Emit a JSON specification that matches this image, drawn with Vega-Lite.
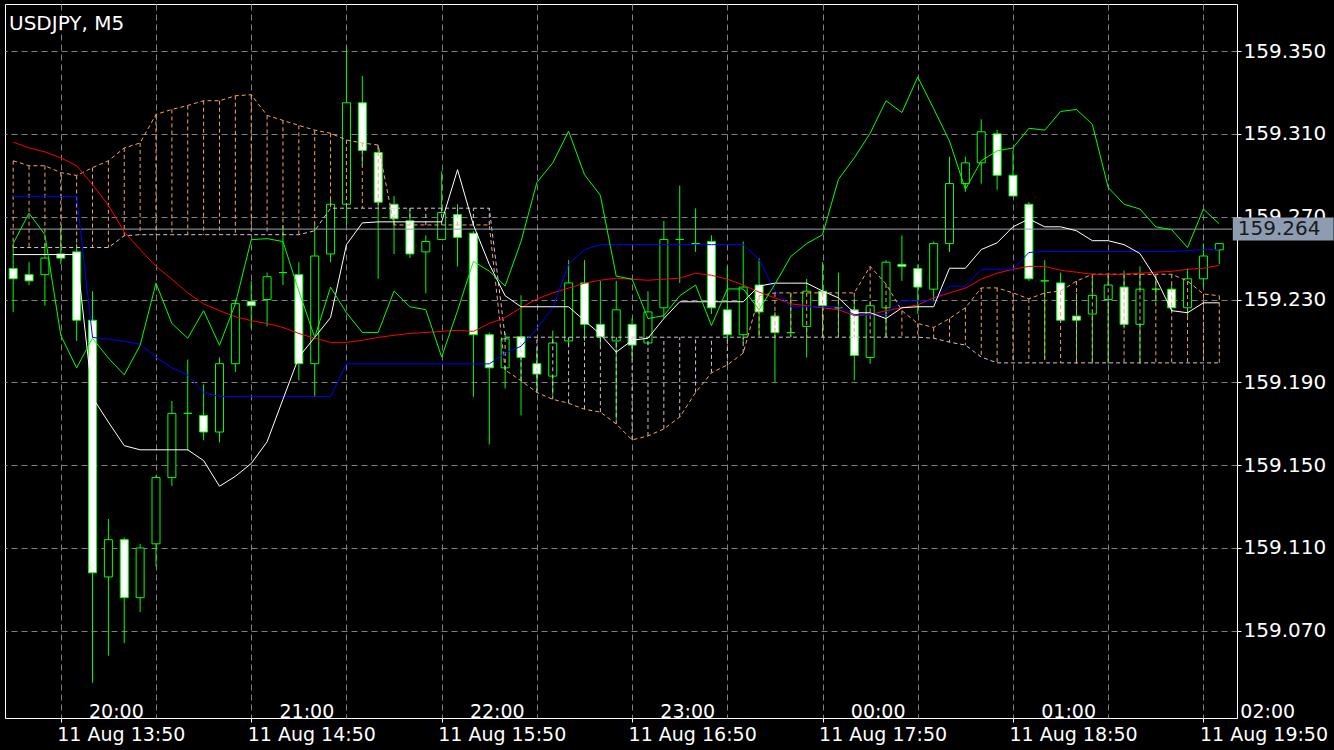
{
"$schema": "https://vega.github.io/schema/vega-lite/v6.json",
"width": 1232, "height": 714,
"autosize": "none",
"padding": {"left": 5, "top": 4, "right": 97, "bottom": 32},
"background": "#000000",
"title": {"text": "USDJPY, M5", "anchor": "start", "frame": "group", "orient": "top", "offset": -24, "baseline": "alphabetic", "dx": 4, "dy": 22, "color": "#ffffff", "font": "DejaVu Sans", "fontSize": 20, "fontWeight": "normal"},
"config": {"view": {"stroke": "#ffffff", "strokeWidth": 1}},
"datasets": {"bars": [
{"i":0,"o":159.245,"h":159.257,"l":159.224,"c":159.240,"ma":159.3060,"kj":159.2798,"tk":159.2517,"ch":159.2570,"sa":159.2970,"sb":159.2551},
{"i":1,"o":159.242,"h":159.248,"l":159.237,"c":159.239,"ma":159.3032,"kj":159.2798,"tk":159.2517,"ch":159.2717,"sa":159.2946,"sb":159.2551},
{"i":2,"o":159.242,"h":159.257,"l":159.227,"c":159.250,"ma":159.3013,"kj":159.2798,"tk":159.2517,"ch":159.2613,"sa":159.2946,"sb":159.2551},
{"i":3,"o":159.252,"h":159.265,"l":159.247,"c":159.250,"ma":159.2984,"kj":159.2798,"tk":159.2517,"ch":159.2127,"sa":159.2913,"sb":159.2551},
{"i":4,"o":159.253,"h":159.257,"l":159.210,"c":159.220,"ma":159.2946,"kj":159.2798,"tk":159.2517,"ch":159.1970,"sa":159.2899,"sb":159.2551},
{"i":5,"o":159.220,"h":159.234,"l":159.045,"c":159.098,"ma":159.2855,"kj":159.2117,"tk":159.1827,"ch":159.2113,"sa":159.2937,"sb":159.2551},
{"i":6,"o":159.096,"h":159.124,"l":159.058,"c":159.114,"ma":159.2755,"kj":159.2108,"tk":159.1708,"ch":159.2017,"sa":159.2970,"sb":159.2551},
{"i":7,"o":159.114,"h":159.115,"l":159.064,"c":159.086,"ma":159.2627,"kj":159.2098,"tk":159.1594,"ch":159.1936,"sa":159.3032,"sb":159.2608},
{"i":8,"o":159.086,"h":159.112,"l":159.079,"c":159.110,"ma":159.2541,"kj":159.2084,"tk":159.1574,"ch":159.2079,"sa":159.3056,"sb":159.2613},
{"i":9,"o":159.112,"h":159.145,"l":159.101,"c":159.144,"ma":159.2460,"kj":159.2022,"tk":159.1574,"ch":159.2379,"sa":159.3194,"sb":159.2613},
{"i":10,"o":159.144,"h":159.181,"l":159.140,"c":159.175,"ma":159.2398,"kj":159.1970,"tk":159.1574,"ch":159.2184,"sa":159.3218,"sb":159.2613},
{"i":11,"o":159.175,"h":159.201,"l":159.157,"c":159.175,"ma":159.2332,"kj":159.1936,"tk":159.1574,"ch":159.2113,"sa":159.3237,"sb":159.2613},
{"i":12,"o":159.174,"h":159.189,"l":159.162,"c":159.166,"ma":159.2279,"kj":159.1851,"tk":159.1522,"ch":159.2246,"sa":159.3260,"sb":159.2613},
{"i":13,"o":159.166,"h":159.202,"l":159.161,"c":159.199,"ma":159.2246,"kj":159.1832,"tk":159.1398,"ch":159.2079,"sa":159.3260,"sb":159.2613},
{"i":14,"o":159.199,"h":159.230,"l":159.195,"c":159.228,"ma":159.2217,"kj":159.1832,"tk":159.1446,"ch":159.2279,"sa":159.3284,"sb":159.2613},
{"i":15,"o":159.229,"h":159.239,"l":159.216,"c":159.227,"ma":159.2198,"kj":159.1832,"tk":159.1508,"ch":159.2589,"sa":159.3289,"sb":159.2613},
{"i":16,"o":159.230,"h":159.243,"l":159.217,"c":159.241,"ma":159.2184,"kj":159.1832,"tk":159.1613,"ch":159.2594,"sa":159.3189,"sb":159.2613},
{"i":17,"o":159.243,"h":159.266,"l":159.237,"c":159.243,"ma":159.2165,"kj":159.1832,"tk":159.1818,"ch":159.2580,"sa":159.3165,"sb":159.2613},
{"i":18,"o":159.242,"h":159.248,"l":159.191,"c":159.199,"ma":159.2136,"kj":159.1832,"tk":159.2022,"ch":159.2341,"sa":159.3141,"sb":159.2613},
{"i":19,"o":159.199,"h":159.266,"l":159.183,"c":159.251,"ma":159.2113,"kj":159.1832,"tk":159.2117,"ch":159.2117,"sa":159.3118,"sb":159.2632},
{"i":20,"o":159.252,"h":159.278,"l":159.248,"c":159.276,"ma":159.2093,"kj":159.1832,"tk":159.2213,"ch":159.2360,"sa":159.3103,"sb":159.2741},
{"i":21,"o":159.276,"h":159.352,"l":159.266,"c":159.325,"ma":159.2093,"kj":159.1989,"tk":159.2565,"ch":159.2236,"sa":159.3070,"sb":159.2741},
{"i":22,"o":159.325,"h":159.338,"l":159.295,"c":159.302,"ma":159.2103,"kj":159.1989,"tk":159.2670,"ch":159.2141,"sa":159.3056,"sb":159.2741},
{"i":23,"o":159.301,"h":159.304,"l":159.240,"c":159.277,"ma":159.2117,"kj":159.1989,"tk":159.2675,"ch":159.2141,"sa":159.3046,"sb":159.2741},
{"i":24,"o":159.276,"h":159.280,"l":159.252,"c":159.269,"ma":159.2127,"kj":159.1989,"tk":159.2675,"ch":159.2341,"sa":159.2660,"sb":159.2741},
{"i":25,"o":159.268,"h":159.274,"l":159.250,"c":159.252,"ma":159.2136,"kj":159.1989,"tk":159.2675,"ch":159.2265,"sa":159.2660,"sb":159.2741},
{"i":26,"o":159.253,"h":159.261,"l":159.233,"c":159.258,"ma":159.2141,"kj":159.1989,"tk":159.2675,"ch":159.2251,"sa":159.2660,"sb":159.2741},
{"i":27,"o":159.259,"h":159.292,"l":159.259,"c":159.272,"ma":159.2146,"kj":159.1989,"tk":159.2675,"ch":159.2022,"sa":159.2660,"sb":159.2741},
{"i":28,"o":159.271,"h":159.276,"l":159.246,"c":159.260,"ma":159.2151,"kj":159.1989,"tk":159.2927,"ch":159.2246,"sa":159.2660,"sb":159.2741},
{"i":29,"o":159.262,"h":159.263,"l":159.183,"c":159.213,"ma":159.2146,"kj":159.1989,"tk":159.2660,"ch":159.2484,"sa":159.2660,"sb":159.2741},
{"i":30,"o":159.213,"h":159.214,"l":159.160,"c":159.197,"ma":159.2184,"kj":159.1989,"tk":159.2470,"ch":159.2437,"sa":159.2660,"sb":159.2741},
{"i":31,"o":159.197,"h":159.214,"l":159.187,"c":159.211,"ma":159.2213,"kj":159.2041,"tk":159.2318,"ch":159.2365,"sa":159.1960,"sb":159.2118},
{"i":32,"o":159.212,"h":159.232,"l":159.174,"c":159.202,"ma":159.2260,"kj":159.2074,"tk":159.2265,"ch":159.2580,"sa":159.1908,"sb":159.2118},
{"i":33,"o":159.199,"h":159.206,"l":159.185,"c":159.194,"ma":159.2303,"kj":159.2160,"tk":159.2265,"ch":159.2865,"sa":159.1851,"sb":159.2118},
{"i":34,"o":159.193,"h":159.215,"l":159.184,"c":159.209,"ma":159.2332,"kj":159.2260,"tk":159.2265,"ch":159.2960,"sa":159.1818,"sb":159.2118},
{"i":35,"o":159.210,"h":159.249,"l":159.208,"c":159.238,"ma":159.2355,"kj":159.2470,"tk":159.2265,"ch":159.3113,"sa":159.1799,"sb":159.2118},
{"i":36,"o":159.238,"h":159.249,"l":159.210,"c":159.218,"ma":159.2379,"kj":159.2541,"tk":159.2198,"ch":159.2903,"sa":159.1770,"sb":159.2118},
{"i":37,"o":159.218,"h":159.239,"l":159.208,"c":159.212,"ma":159.2393,"kj":159.2565,"tk":159.2132,"ch":159.2803,"sa":159.1756,"sb":159.2118},
{"i":38,"o":159.210,"h":159.239,"l":159.172,"c":159.225,"ma":159.2403,"kj":159.2565,"tk":159.2046,"ch":159.2413,"sa":159.1699,"sb":159.2118},
{"i":39,"o":159.218,"h":159.221,"l":159.201,"c":159.208,"ma":159.2398,"kj":159.2565,"tk":159.2103,"ch":159.2398,"sa":159.1622,"sb":159.2118},
{"i":40,"o":159.209,"h":159.234,"l":159.208,"c":159.224,"ma":159.2393,"kj":159.2565,"tk":159.2113,"ch":159.2208,"sa":159.1641,"sb":159.2118},
{"i":41,"o":159.226,"h":159.268,"l":159.221,"c":159.259,"ma":159.2398,"kj":159.2565,"tk":159.2208,"ch":159.2222,"sa":159.1675,"sb":159.2118},
{"i":42,"o":159.259,"h":159.285,"l":159.238,"c":159.259,"ma":159.2403,"kj":159.2565,"tk":159.2289,"ch":159.2318,"sa":159.1732,"sb":159.2118},
{"i":43,"o":159.257,"h":159.274,"l":159.253,"c":159.257,"ma":159.2427,"kj":159.2565,"tk":159.2289,"ch":159.2370,"sa":159.1851,"sb":159.2118},
{"i":44,"o":159.258,"h":159.261,"l":159.223,"c":159.226,"ma":159.2417,"kj":159.2565,"tk":159.2289,"ch":159.2174,"sa":159.1946,"sb":159.2118},
{"i":45,"o":159.225,"h":159.246,"l":159.210,"c":159.213,"ma":159.2398,"kj":159.2565,"tk":159.2289,"ch":159.2351,"sa":159.1984,"sb":159.2118},
{"i":46,"o":159.213,"h":159.258,"l":159.209,"c":159.236,"ma":159.2370,"kj":159.2565,"tk":159.2289,"ch":159.2351,"sa":159.2041,"sb":159.2118},
{"i":47,"o":159.237,"h":159.250,"l":159.212,"c":159.224,"ma":159.2336,"kj":159.2494,"tk":159.2365,"ch":159.2251,"sa":159.2318,"sb":159.2118},
{"i":48,"o":159.222,"h":159.224,"l":159.190,"c":159.214,"ma":159.2308,"kj":159.2341,"tk":159.2379,"ch":159.2374,"sa":159.2332,"sb":159.2118},
{"i":49,"o":159.214,"h":159.233,"l":159.212,"c":159.214,"ma":159.2279,"kj":159.2265,"tk":159.2379,"ch":159.2508,"sa":159.2332,"sb":159.2118},
{"i":50,"o":159.217,"h":159.240,"l":159.202,"c":159.234,"ma":159.2270,"kj":159.2265,"tk":159.2379,"ch":159.2570,"sa":159.2332,"sb":159.2118},
{"i":51,"o":159.234,"h":159.248,"l":159.212,"c":159.227,"ma":159.2260,"kj":159.2265,"tk":159.2341,"ch":159.2613,"sa":159.2332,"sb":159.2118},
{"i":52,"o":159.226,"h":159.243,"l":159.212,"c":159.226,"ma":159.2251,"kj":159.2265,"tk":159.2308,"ch":159.2880,"sa":159.2332,"sb":159.2118},
{"i":53,"o":159.225,"h":159.231,"l":159.191,"c":159.203,"ma":159.2222,"kj":159.2227,"tk":159.2236,"ch":159.2984,"sa":159.2332,"sb":159.2118},
{"i":54,"o":159.202,"h":159.229,"l":159.199,"c":159.227,"ma":159.2227,"kj":159.2227,"tk":159.2236,"ch":159.3103,"sa":159.2460,"sb":159.2118},
{"i":55,"o":159.226,"h":159.249,"l":159.212,"c":159.248,"ma":159.2246,"kj":159.2227,"tk":159.2208,"ch":159.3260,"sa":159.2375,"sb":159.2118},
{"i":56,"o":159.247,"h":159.261,"l":159.239,"c":159.246,"ma":159.2260,"kj":159.2294,"tk":159.2260,"ch":159.3203,"sa":159.2246,"sb":159.2118},
{"i":57,"o":159.245,"h":159.247,"l":159.223,"c":159.236,"ma":159.2274,"kj":159.2294,"tk":159.2265,"ch":159.3375,"sa":159.2184,"sb":159.2118},
{"i":58,"o":159.235,"h":159.258,"l":159.229,"c":159.257,"ma":159.2308,"kj":159.2294,"tk":159.2265,"ch":159.3222,"sa":159.2165,"sb":159.2113},
{"i":59,"o":159.257,"h":159.299,"l":159.253,"c":159.286,"ma":159.2332,"kj":159.2365,"tk":159.2451,"ch":159.3065,"sa":159.2208,"sb":159.2094},
{"i":60,"o":159.286,"h":159.299,"l":159.282,"c":159.296,"ma":159.2355,"kj":159.2365,"tk":159.2451,"ch":159.2832,"sa":159.2260,"sb":159.2080},
{"i":61,"o":159.296,"h":159.317,"l":159.286,"c":159.311,"ma":159.2398,"kj":159.2446,"tk":159.2541,"ch":159.2970,"sa":159.2356,"sb":159.2022},
{"i":62,"o":159.310,"h":159.312,"l":159.283,"c":159.290,"ma":159.2427,"kj":159.2446,"tk":159.2574,"ch":159.3018,"sa":159.2356,"sb":159.1994},
{"i":63,"o":159.290,"h":159.302,"l":159.280,"c":159.280,"ma":159.2446,"kj":159.2446,"tk":159.2651,"ch":159.3032,"sa":159.2332,"sb":159.1994},
{"i":64,"o":159.276,"h":159.277,"l":159.239,"c":159.240,"ma":159.2460,"kj":159.2527,"tk":159.2689,"ch":159.3127,"sa":159.2303,"sb":159.1994},
{"i":65,"o":159.239,"h":159.249,"l":159.201,"c":159.239,"ma":159.2460,"kj":159.2532,"tk":159.2651,"ch":159.3118,"sa":159.2332,"sb":159.1994},
{"i":66,"o":159.238,"h":159.243,"l":159.219,"c":159.220,"ma":159.2441,"kj":159.2532,"tk":159.2651,"ch":159.3208,"sa":159.2341,"sb":159.1994},
{"i":67,"o":159.222,"h":159.233,"l":159.199,"c":159.220,"ma":159.2432,"kj":159.2532,"tk":159.2632,"ch":159.3218,"sa":159.2389,"sb":159.1994},
{"i":68,"o":159.223,"h":159.241,"l":159.199,"c":159.232,"ma":159.2422,"kj":159.2532,"tk":159.2584,"ch":159.3146,"sa":159.2422,"sb":159.1994},
{"i":69,"o":159.230,"h":159.243,"l":159.199,"c":159.237,"ma":159.2422,"kj":159.2532,"tk":159.2584,"ch":159.2841,"sa":159.2422,"sb":159.1994},
{"i":70,"o":159.236,"h":159.244,"l":159.216,"c":159.218,"ma":159.2422,"kj":159.2532,"tk":159.2565,"ch":159.2760,"sa":159.2422,"sb":159.1994},
{"i":71,"o":159.218,"h":159.246,"l":159.199,"c":159.235,"ma":159.2427,"kj":159.2532,"tk":159.2522,"ch":159.2737,"sa":159.2422,"sb":159.1994},
{"i":72,"o":159.235,"h":159.241,"l":159.229,"c":159.235,"ma":159.2432,"kj":159.2532,"tk":159.2403,"ch":159.2651,"sa":159.2422,"sb":159.1994},
{"i":73,"o":159.235,"h":159.237,"l":159.224,"c":159.226,"ma":159.2436,"kj":159.2532,"tk":159.2246,"ch":159.2637,"sa":159.2422,"sb":159.1994},
{"i":74,"o":159.226,"h":159.245,"l":159.222,"c":159.240,"ma":159.2446,"kj":159.2536,"tk":159.2236,"ch":159.2551,"sa":159.2389,"sb":159.1994},
{"i":75,"o":159.240,"h":159.257,"l":159.236,"c":159.251,"ma":159.2451,"kj":159.2541,"tk":159.2284,"ch":159.2737,"sa":159.2327,"sb":159.1994},
{"i":76,"o":159.254,"h":159.257,"l":159.247,"c":159.257,"ma":159.2465,"kj":159.2541,"tk":159.2284,"ch":159.2665,"sa":159.2318,"sb":159.1994}
]},
"layer": [
{"data": {"name": "bars"}, "mark": {"type": "rule", "color": "#00ff00", "strokeWidth": 1},
 "encoding": {
  "x": {"field": "i", "type": "quantitative", "scale": {"domain": [-0.2, 76.8], "nice": false, "zero": false},
   "axis": {"values": [3,5,9,15,17,21,27,29,33,39,41,45,51,53,57,63,65,69,75,76.79],
    "labelExpr": "datum.value==3?'11 Aug 13:50':datum.value==15?'11 Aug 14:50':datum.value==27?'11 Aug 15:50':datum.value==39?'11 Aug 16:50':datum.value==51?'11 Aug 17:50':datum.value==63?'11 Aug 18:50':datum.value==75?'11 Aug 19:50':datum.value==5?'20:00':datum.value==17?'21:00':datum.value==29?'22:00':datum.value==41?'23:00':datum.value==53?'00:00':datum.value==65?'01:00':datum.value>76?'02:00':''",
    "title": null, "domain": false, "grid": true, "gridColor": "#808080", "gridDash": [6,4], "gridWidth": 1,
    "gridOpacity": {"condition": {"test": "datum.value % 6 == 3", "value": 1}, "value": 0},
    "ticks": true, "tickSize": 4, "tickColor": "#ffffff",
    "tickOpacity": {"condition": {"test": "datum.value % 12 == 3", "value": 1}, "value": 0},
    "labelColor": "#ffffff", "labelFont": "DejaVu Sans", "labelFontSize": 19, "labelAlign": "left",
    "labelBaseline": {"condition": {"test": "datum.value % 12 == 5 || datum.value > 76", "value": "alphabetic"}, "value": "top"},
    "labelPadding": {"condition": {"test": "datum.value % 12 == 5 || datum.value > 76", "value": -5}, "value": 3},
    "labelOffset": {"condition": {"test": "datum.value > 76", "value": 8}, "value": -4},
    "labelOverlap": false, "labelBound": false, "labelFlush": false}},
  "y": {"field": "l", "type": "quantitative", "scale": {"domain": [159.0303, 159.3703], "nice": false, "zero": false},
   "axis": {"orient": "right", "values": [159.07,159.11,159.15,159.19,159.23,159.27,159.31,159.35], "format": ".3f", "title": null, "domain": false, "grid": true, "gridColor": "#808080", "gridDash": [6,4], "gridWidth": 1, "tickSize": 4, "tickColor": "#ffffff", "labelColor": "#ffffff", "labelFont": "DejaVu Sans", "labelFontSize": 20, "labelPadding": 2, "labelAlign": "left", "labelBaseline": "middle", "labelOverlap": false, "labelBound": false, "labelFlush": false}},
  "y2": {"field": "h"}}},
{"data": {"name": "bars"}, "mark": {"type": "bar", "size": 8, "stroke": "#00ff00", "strokeWidth": 1},
 "encoding": {"x": {"field": "i", "type": "quantitative"}, "y": {"field": "o", "type": "quantitative"}, "y2": {"field": "c"},
  "fill": {"condition": {"test": "datum.c > datum.o", "value": "#000000"}, "value": "#ffffff"}}},
{"data": {"name": "bars"}, "mark": {"type": "rule", "strokeDash": [4,3], "strokeWidth": 1},
 "encoding": {"x": {"field": "i", "type": "quantitative"}, "y": {"field": "sa", "type": "quantitative"}, "y2": {"field": "sb"},
  "color": {"condition": {"test": "datum.sa >= datum.sb", "value": "#F4A460"}, "value": "#D8BFD8"}}},
{"data": {"name": "bars"}, "mark": {"type": "line", "color": "#F4A460", "strokeWidth": 1, "strokeDash": [4,3]},
 "encoding": {"x": {"field": "i", "type": "quantitative"}, "y": {"field": "sa", "type": "quantitative"}}},
{"data": {"name": "bars"}, "mark": {"type": "line", "color": "#D8BFD8", "strokeWidth": 1, "strokeDash": [4,3]},
 "encoding": {"x": {"field": "i", "type": "quantitative"}, "y": {"field": "sb", "type": "quantitative"}}},
{"data": {"values": [{"price": 159.264}]},
 "layer": [
  {"mark": {"type": "rule", "color": "#9aa2b0", "strokeWidth": 1},
   "encoding": {"x": {"datum": -0.2}, "x2": {"datum": 76.8}, "y": {"field": "price", "type": "quantitative"}}},
  {"mark": {"type": "bar", "color": "#8d9cb0", "size": 23, "orient": "horizontal", "clip": false},
   "encoding": {"x": {"datum": 76.85}, "x2": {"datum": 83.2}, "y": {"field": "price", "type": "quantitative"}}},
  {"mark": {"type": "text", "align": "left", "baseline": "middle", "dx": 5, "font": "DejaVu Sans", "fontSize": 20, "color": "#1a1a1a"},
   "encoding": {"x": {"datum": 76.85}, "y": {"field": "price", "type": "quantitative"}, "text": {"field": "price", "type": "quantitative", "format": ".3f"}}}
 ]},
{"data": {"name": "bars"}, "mark": {"type": "line", "color": "#ff0000", "strokeWidth": 1},
 "encoding": {"x": {"field": "i", "type": "quantitative"}, "y": {"field": "ma", "type": "quantitative"}}},
{"data": {"name": "bars"}, "mark": {"type": "line", "color": "#0000ff", "strokeWidth": 1},
 "encoding": {"x": {"field": "i", "type": "quantitative"}, "y": {"field": "kj", "type": "quantitative"}}},
{"data": {"name": "bars"}, "mark": {"type": "line", "color": "#ffffff", "strokeWidth": 1},
 "encoding": {"x": {"field": "i", "type": "quantitative"}, "y": {"field": "tk", "type": "quantitative"}}},
{"data": {"name": "bars"}, "mark": {"type": "line", "color": "#00ff00", "strokeWidth": 1},
 "encoding": {"x": {"field": "i", "type": "quantitative"}, "y": {"field": "ch", "type": "quantitative"}}}
]
}
